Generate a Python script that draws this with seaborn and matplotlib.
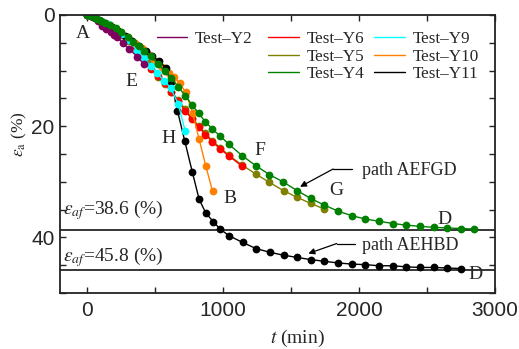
import matplotlib
matplotlib.use("Agg")
import matplotlib.pyplot as plt
import seaborn as sns
import pandas as pd
from matplotlib.lines import Line2D
from matplotlib.ticker import MultipleLocator

# ---------------- data ----------------
y2_t = [0, 40, 80, 111, 140, 172, 200, 221, 260, 307, 369, 418]
y2_e = [0, 0.4, 1.0, 1.9, 2.5, 3.1, 3.6, 4.0, 5.0, 6.1, 7.5, 8.9]

y6_t = [0, 50, 100, 150, 200, 250, 300, 350, 400, 470, 520, 570, 620, 670, 720, 770, 820, 870, 920, 980, 1040, 1140]
y6_e = [0, 0.4, 1.0, 1.8, 2.6, 3.5, 4.5, 5.6, 6.9, 9.8, 11.0, 12.3, 13.8, 15.5, 17.2, 18.7, 20.1, 21.5, 22.8, 24.1, 25.3, 27.2]

y9_t = [0, 50, 100, 150, 200, 250, 300, 369, 420, 467, 516, 565, 614, 670, 720]
y9_e = [0, 0.4, 1.0, 1.7, 2.5, 3.4, 4.5, 6.4, 7.8, 9.2, 10.5, 11.8, 13.1, 16.0, 20.8]

y5_t = [0, 50, 100, 150, 200, 250, 300, 350, 400, 450, 520, 570, 620, 670, 720, 770, 820, 870, 920, 980, 1040, 1140, 1240, 1340, 1445, 1545, 1645, 1745]
y5_e = [0, 0.4, 1.0, 1.8, 2.7, 3.6, 4.7, 5.9, 7.1, 8.6, 11.1, 12.4, 13.8, 15.3, 16.9, 18.5, 19.9, 21.3, 22.6, 23.9, 25.2, 27.0, 28.6, 30.1, 31.6, 32.8, 33.9, 34.9]

y10_t = [0, 50, 100, 150, 200, 250, 300, 350, 400, 450, 500, 550, 600, 640, 680, 725, 775, 823, 872, 922]
y10_e = [0, 0.4, 1.0, 1.6, 2.3, 3.1, 4.0, 5.0, 6.0, 7.1, 8.2, 9.4, 10.4, 11.2, 12.3, 13.9, 17.6, 22.3, 27.1, 31.7]

y4_t = [0, 25, 50, 75, 100, 130, 170, 210, 250, 300, 340, 380, 420, 470, 520, 570, 620, 670, 720, 770, 820, 870, 920, 980, 1040, 1140, 1240, 1340, 1440, 1545, 1645, 1745, 1848, 1947, 2047, 2147, 2249, 2347, 2445, 2549, 2648, 2748, 2846]
y4_e = [0, 0.15, 0.4, 0.7, 1.0, 1.35, 1.85, 2.4, 3.1, 4.0, 4.8, 5.6, 6.4, 7.4, 8.8, 10.1, 11.4, 12.9, 14.5, 16.1, 17.7, 19.2, 20.5, 21.8, 23.2, 25.3, 27.1, 28.7, 30.0, 31.6, 33.0, 34.2, 35.3, 36.1, 36.7, 37.1, 37.5, 37.8, 38.0, 38.2, 38.3, 38.4, 38.5]

y11_t = [0, 30, 60, 90, 130, 180, 230, 280, 330, 381, 430, 479, 528, 577, 620, 664, 717, 774, 823, 872, 929, 978, 1044, 1143, 1241, 1347, 1445, 1543, 1647, 1745, 1848, 1947, 2047, 2146, 2249, 2347, 2445, 2549, 2648, 2748]
y11_e = [0, 0.2, 0.5, 0.9, 1.4, 2.1, 2.9, 3.8, 4.7, 5.6, 6.5, 7.4, 8.3, 9.5, 12.0, 17.2, 22.6, 28.3, 33.1, 35.6, 37.2, 38.5, 39.7, 40.9, 42.0, 42.7, 43.2, 43.6, 44.0, 44.3, 44.6, 44.8, 44.9, 45.1, 45.1, 45.3, 45.4, 45.4, 45.5, 45.6]

eps_af = [38.6, 45.8]

names = ["Test\u2013Y2", "Test\u2013Y6", "Test\u2013Y9", "Test\u2013Y5", "Test\u2013Y10", "Test\u2013Y4", "Test\u2013Y11"]
colors = {"Test\u2013Y2": "#800060", "Test\u2013Y6": "#ff0000", "Test\u2013Y9": "#00ffff",
          "Test\u2013Y5": "#808000", "Test\u2013Y10": "#ff8000", "Test\u2013Y4": "#008000",
          "Test\u2013Y11": "#000000"}
series = {
    "Test\u2013Y2": (y2_t, y2_e), "Test\u2013Y6": (y6_t, y6_e), "Test\u2013Y9": (y9_t, y9_e),
    "Test\u2013Y5": (y5_t, y5_e), "Test\u2013Y10": (y10_t, y10_e), "Test\u2013Y4": (y4_t, y4_e),
    "Test\u2013Y11": (y11_t, y11_e),
}
draw_order = ["Test\u2013Y5", "Test\u2013Y6", "Test\u2013Y10", "Test\u2013Y11", "Test\u2013Y9", "Test\u2013Y2", "Test\u2013Y4"]

# ---------------- style ----------------
sns.set_style("ticks")
plt.rcParams["font.family"] = ["Liberation Serif", "DejaVu Serif"]
plt.rcParams["mathtext.fontset"] = "stix"
plt.rcParams["axes.linewidth"] = 1.3
plt.rcParams["axes.edgecolor"] = "#222222"

W, H = 519, 349
fig = plt.figure(figsize=(W / 100, H / 100), dpi=100)
L, R, T, B = 60, 495, 15, 293
ax = fig.add_axes([L / W, 1 - B / H, (R - L) / W, (B - T) / H])

for n in draw_order:
    t, e = series[n]
    df = pd.DataFrame({"t": t, "e": e})
    sns.lineplot(data=df, x="t", y="e", ax=ax, color=colors[n], marker="o",
                 markersize=5.6, markeredgewidth=0, linewidth=1.0,
                 sort=False, estimator=None, legend=False)

for v in eps_af:
    ax.axhline(v, color="black", linewidth=1.1, zorder=1)

ax.set_xlim(-200, 3000)
ax.set_ylim(50, 0)
ax.xaxis.set_major_locator(MultipleLocator(1000))
ax.xaxis.set_minor_locator(MultipleLocator(500))
ax.yaxis.set_major_locator(MultipleLocator(20))
ax.yaxis.set_minor_locator(MultipleLocator(5))
ax.tick_params(which="both", direction="in", top=True, right=True,
               length=4.5, width=1.0, color="#222222")
ax.tick_params(axis="x", which="major", pad=6)
ax.tick_params(axis="y", which="major", pad=4)
for lab in ax.get_xticklabels() + ax.get_yticklabels():
    lab.set_fontfamily("Liberation Sans")
    lab.set_fontsize(15)

ax.set_xlabel(r"$t$ (min)", fontsize=14)
ax.xaxis.set_label_coords(0.545, -0.125)
ax.set_ylabel(r"$\varepsilon_{\rm a}$ (%)", fontsize=12.5)
ax.yaxis.set_label_coords(-0.072, 0.57)

# letters
lt = dict(fontsize=14, ha="center", va="center")
ax.text(-29, 3.3, "A", **lt)
ax.text(327, 12.0, "E", **lt)
ax.text(597, 22.2, "H", **lt)
ax.text(1267, 24.3, "F", **lt)
ax.text(1051, 33.0, "B", **lt)
ax.text(1836, 31.5, "G", **lt)
ax.text(2626, 36.7, "D", **lt)
ax.text(2854, 46.6, "D", **lt)

# eps_af labels
ax.text(-180, 35.1, r"$\varepsilon_{af}$" + "=%.1f (%%)" % eps_af[0], fontsize=14, ha="left", va="center")
ax.text(-180, 43.5, r"$\varepsilon_{af}$" + "=%.1f (%%)" % eps_af[1], fontsize=14, ha="left", va="center")

# path annotations
ax.annotate("", xy=(1566, 30.9), xytext=(1809, 27.7),
            arrowprops=dict(arrowstyle="-|>", color="black", lw=0.9, mutation_scale=9, shrinkA=0, shrinkB=0))
ax.plot([1809, 1946], [27.7, 27.7], color="black", lw=0.9)
ax.text(2022, 27.9, "path AEFGD", fontsize=13, ha="left", va="center")
ax.annotate("", xy=(1627, 42.9), xytext=(1836, 41.1),
            arrowprops=dict(arrowstyle="-|>", color="black", lw=0.9, mutation_scale=9, shrinkA=0, shrinkB=0))
ax.plot([1836, 1971], [41.1, 41.1], color="black", lw=0.9)
ax.text(2022, 41.4, "path AEHBD", fontsize=13, ha="left", va="center")

# legends
def h(n):
    return Line2D([], [], color=colors[n], lw=1.0)

leg_kw = dict(frameon=False, fontsize=12.3, handlelength=1.8, handletextpad=0.45,
              borderpad=0, borderaxespad=0, labelspacing=0.1)
leg1 = ax.legend([h(names[0])], [names[0]], loc="upper left", bbox_to_anchor=(0.222, 0.943), **leg_kw)
ax.add_artist(leg1)
others = [names[1], names[3], names[5], names[2], names[4], names[6]]
ax.legend([h(n) for n in others], others, loc="upper left", bbox_to_anchor=(0.479, 0.943),
          ncol=2, columnspacing=0.55, **leg_kw)

fig.savefig("out.png", dpi=100)
